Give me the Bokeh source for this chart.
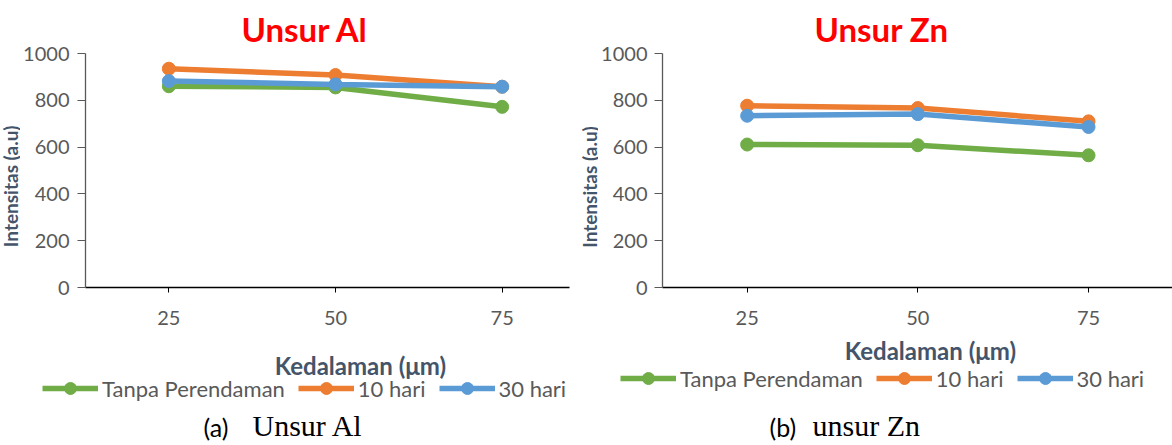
from bokeh.plotting import figure
from bokeh.layouts import row, column
from bokeh.models import Legend, LegendItem, FixedTicker, Label
from bokeh.embed import file_html
from bokeh.resources import INLINE
import math

# ---- data ----
depth = [25, 50, 75]
series_names = ["Tanpa Perendaman", "10 hari", "30 hari"]
series_colors = ["#70AD47", "#ED7D31", "#5B9BD5"]
al_tanpa = [860, 855, 772]
al_10 = [935, 908, 858]
al_30 = [882, 868, 858]
zn_tanpa = [611, 608, 565]
zn_10 = [777, 767, 710]
zn_30 = [734, 741, 686]
y_ticks = [0, 200, 400, 600, 800, 1000]

FONT = "Lato"
MID_H, BOT_H = 340, 105


def blank(w, h):
    """A figure with no axes whose plot area is its whole canvas (used for texts)."""
    f = figure(width=w, height=h, output_backend="svg", toolbar_location=None,
               x_range=(0, w), y_range=(0, h), x_axis_location=None,
               y_axis_location=None, min_border=0)
    f.min_border_left = f.min_border_right = f.min_border_top = f.min_border_bottom = 0
    f.outline_line_color = None
    f.grid.visible = False
    return f


def txt(f, x, y_from_top, text, **kw):
    f.add_layout(Label(x=x, y=f.height - y_from_top, text=text, **kw))


def chart(title, title_off, values, xr, bl, br, bt, bb, w, label_standoff):
    p = figure(width=w, height=MID_H, output_backend="svg", toolbar_location=None,
               x_range=xr, y_range=(0, 1000),
               min_border_left=bl, min_border_right=br,
               min_border_top=bt, min_border_bottom=bb)
    p.outline_line_color = None
    p.grid.visible = False
    p.title.text = title
    p.title.align = "left"
    p.title.offset = title_off
    p.title.standoff = 10
    p.title.text_font = FONT
    p.title.text_font_size = "33px"
    p.title.text_font_style = "bold"
    p.title.text_color = "#FF0000"
    p.xaxis.ticker = FixedTicker(ticks=depth)
    p.yaxis.ticker = FixedTicker(ticks=y_ticks)
    for ax in (p.xaxis, p.yaxis):
        ax.major_label_text_font = FONT
        ax.major_label_text_font_size = "20px"
        ax.major_label_text_color = "#595959"
        ax.minor_tick_line_color = None
        ax.major_tick_in = 0
    p.xaxis.axis_line_color = "#000000"
    p.xaxis.major_tick_line_color = "#000000"
    p.xaxis.axis_line_width = 1.5
    p.xaxis.major_tick_out = 5
    p.xaxis.major_label_standoff = 18
    p.yaxis.axis_line_color = "#595959"
    p.yaxis.major_tick_line_color = "#595959"
    p.yaxis.axis_line_width = 1.3
    p.yaxis.major_tick_out = 8
    p.yaxis.major_label_standoff = label_standoff
    for col, vals in zip(series_colors, values):
        p.line(depth, vals, line_color=col, line_width=5.5)
        p.scatter(depth, vals, size=13, fill_color=col, line_color=col)
    return p


def bottom(w, xlab_x, xlab_base, leg_x, leg_center, cap_x1, cap_x2, cap_base, tag, cap):
    f = blank(w, BOT_H)
    txt(f, xlab_x, xlab_base, "Kedalaman (μm)", text_font=FONT, text_font_size="24px",
        text_font_style="bold", text_color="#44546A", text_align="center",
        text_baseline="alphabetic")
    items = []
    nan = float("nan")
    for name, col in zip(series_names, series_colors):
        lr = f.line([nan], [nan], line_color=col, line_width=5.5)
        sr = f.scatter([nan], [nan], size=13, fill_color=col, line_color=col)
        items.append(LegendItem(label=name, renderers=[lr, sr]))
    leg = Legend(items=items, orientation="horizontal",
                 location=(leg_x, BOT_H - leg_center - 15),
                 background_fill_alpha=0, border_line_alpha=0,
                 padding=0, margin=0, spacing=13, label_standoff=4,
                 glyph_width=56, glyph_height=30, label_height=20,
                 label_text_font=FONT, label_text_font_size="22px",
                 label_text_color="#595959")
    f.add_layout(leg, "center")
    txt(f, cap_x1, cap_base + 1, tag, text_font=FONT, text_font_size="25px",
        text_color="#000000", text_align="left", text_baseline="alphabetic")
    txt(f, cap_x2, cap_base, cap, text_font="Liberation Serif", text_font_size="30px",
        text_color="#000000", text_align="left", text_baseline="alphabetic")
    return f


def ylab_fig(w, cx, cy):
    f = blank(w, MID_H)
    f.add_layout(Label(x=cx, y=MID_H - cy, text="Intensitas (a.u)", angle=math.pi / 2,
                       text_font=FONT, text_font_size="19px", text_font_style="bold",
                       text_color="#44546A", text_align="center", text_baseline="middle"))
    return f


# top row: axis titles + charts; chart frames: Al 83..569 x 53..288, Zn 660..1172 x 52..287
y_l = ylab_fig(20, 10, 193)
c_l = chart("Unsur Al", 156, [al_tanpa, al_10, al_30], (12.5, 85.1), 63, 11, 53, 52, 560, 8)
y_r = ylab_fig(18, 9, 194)
c_r = chart("Unsur Zn", 152, [zn_tanpa, zn_10, zn_30], (12.6, 87.3), 62, 0, 52, 53, 574, 7)

# bottom row: x axis title, legend, caption
b0 = MID_H
b_l = bottom(586, 360, 365 - b0, 42, 388 - b0, 203, 252, 425 - b0, "(a)", "Unsur Al")
b_r = bottom(586, 930 - 586, 350 - b0, 620 - 586, 378 - b0, 769 - 586, 812 - 586,
             425 - b0, "(b)", "unsur Zn")

layout = column(row(y_l, c_l, y_r, c_r, spacing=0),
                row(b_l, b_r, spacing=0), spacing=0)
open("out.html", "w").write(file_html(layout, INLINE))
